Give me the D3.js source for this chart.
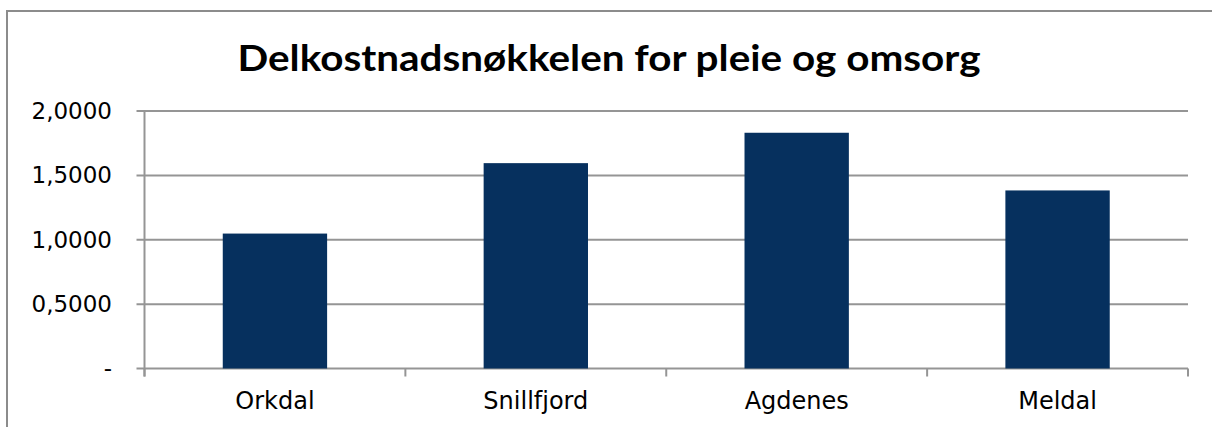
<!DOCTYPE html>
<html>
<head>
<meta charset="utf-8">
<script src="https://cdn.jsdelivr.net/npm/d3@7"></script>
<style>
  body { margin: 0; background: #fff; }
  svg { display: block; }
</style>
</head>
<body>
<div id="chart"></div>
<script>
const categories = ['Orkdal', 'Snillfjord', 'Agdenes', 'Meldal'];
const values = [1.048, 1.595, 1.831, 1.383];
const yTicks = [0, 0.5, 1, 1.5, 2];
const title = 'Delkostnadsnøkkelen for pleie og omsorg';

const W = 1212, H = 427;
const titleFont = '"Century Gothic", Lato, "Liberation Sans", sans-serif';
const labelFont = '"Century Gothic", "DejaVu Sans", sans-serif';
const margin = { left: 144.5, right: 1188, top: 111, bottom: 368.5 };

const svg = d3.select('#chart')
  .append('svg')
  .attr('width', W)
  .attr('height', H)
  .attr('font-family', labelFont);

// outer frame
svg.append('rect')
  .attr('x', 7).attr('y', 11)
  .attr('width', 1215).attr('height', 430)
  .attr('fill', 'none')
  .attr('stroke', '#8c8c8c')
  .attr('stroke-width', 2);

svg.append('text')
  .attr('x', 609).attr('y', 70.5)
  .attr('text-anchor', 'middle')
  .attr('font-family', titleFont)
  .attr('font-size', 36)
  .attr('font-weight', 'bold')
  .attr('fill', '#000')
  .attr('textLength', 743)
  .attr('lengthAdjust', 'spacingAndGlyphs')
  .text(title);

const x = d3.scaleBand()
  .domain(categories)
  .range([margin.left, margin.right])
  .paddingInner(0.6)
  .paddingOuter(0.3);

const y = d3.scaleLinear()
  .domain([0, 2])
  .range([margin.bottom, margin.top]);

const fmt = d => d === 0 ? '-' : d3.format('.4f')(d).replace('.', ',');

// gridlines
svg.append('g')
  .attr('class', 'grid')
  .selectAll('line')
  .data(yTicks)
  .join('line')
  .attr('x1', margin.left - 8)
  .attr('x2', margin.right)
  .attr('y1', d => y(d))
  .attr('y2', d => y(d))
  .attr('stroke', '#959595')
  .attr('stroke-width', 2);

// y axis (labels only, lines drawn by grid)
const yAxis = svg.append('g')
  .attr('transform', `translate(${margin.left},0)`)
  .call(d3.axisLeft(y).tickValues(yTicks).tickFormat(fmt).tickSize(8).tickPadding(24.5));
yAxis.select('.domain').remove();
yAxis.selectAll('.tick line').remove();
yAxis.selectAll('.tick text')
  .attr('font-size', 23)
  .attr('font-family', labelFont)
  .attr('fill', '#000');

svg.append('line')
  .attr('x1', margin.left).attr('x2', margin.left)
  .attr('y1', margin.top).attr('y2', margin.bottom + 8)
  .attr('stroke', '#959595')
  .attr('stroke-width', 2);

// category boundary ticks
const bounds = d3.range(categories.length + 1).map(i => margin.left + i * x.step());
svg.append('g')
  .selectAll('line')
  .data(bounds)
  .join('line')
  .attr('x1', d => d).attr('x2', d => d)
  .attr('y1', margin.bottom).attr('y2', margin.bottom + 8)
  .attr('stroke', '#959595')
  .attr('stroke-width', 2);

// bars
svg.append('g')
  .selectAll('rect')
  .data(values)
  .join('rect')
  .attr('x', (d, i) => x(categories[i]))
  .attr('width', x.bandwidth())
  .attr('y', d => y(d))
  .attr('height', d => y(0) - y(d))
  .attr('fill', '#06305e');

// x axis labels
const xAxis = svg.append('g')
  .attr('transform', `translate(0,${margin.bottom})`)
  .call(d3.axisBottom(x).tickSize(0).tickPadding(23));
xAxis.select('.domain').remove();
xAxis.selectAll('.tick text')
  .attr('font-size', 24)
  .attr('font-family', labelFont)
  .attr('fill', '#000');
</script>
</body>
</html>
